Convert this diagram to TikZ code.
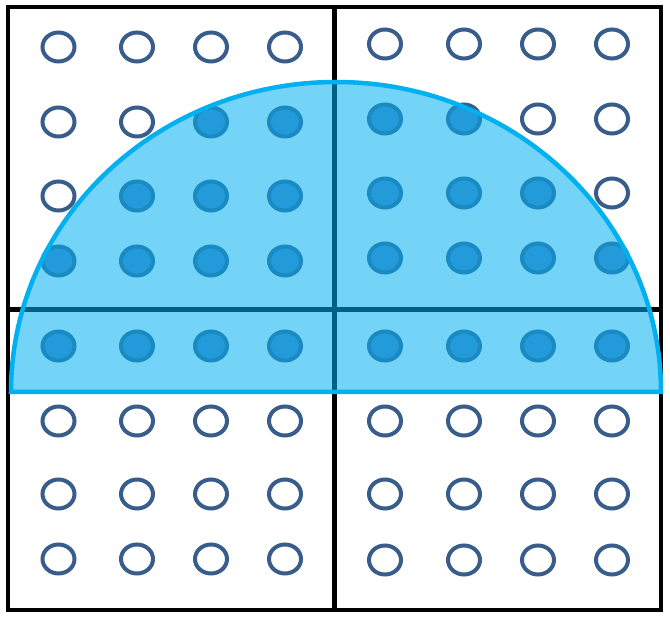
\documentclass[tikz,border=0pt]{standalone}
\usepackage{tikz}
\definecolor{ringblue}{RGB}{56,93,138}
\definecolor{dotblue}{RGB}{79,129,189}
\definecolor{halfblue}{RGB}{0,176,240}
\begin{document}
\begin{tikzpicture}[x=1pt,y=-1pt,
  dot/.style={draw=ringblue,line width=4pt},
  frame/.style={line width=4.8pt}]
\useasboundingbox (0,0) rectangle (670,620);
\draw[frame] (8,7) rectangle (661,610);
\draw[frame] (334.5,7)--(334.5,610);
\draw[frame] (8,309.5)--(661,309.5);
\foreach \yl/\yr/\a/\b in {47/44/9/0,122/119/3/6,196/193/2/7,261/258/1/8,346/346/1/8,421/421/9/0,494/494/9/0,559/560/9/0}
  \foreach \c/\x in {1/58.5,2/137,3/211,4/285,5/385,6/464,7/538,8/612}{
    \ifnum\c<5 \def\y{\yl}\else\def\y{\yr}\fi
    \ifnum\c<\a \def\f{white}\else\ifnum\c>\b \def\f{white}\else\def\f{dotblue}\fi\fi
    \draw[dot,fill=\f] (\x,\y) ellipse [x radius=16pt, y radius=14.5pt];
  }
\draw[draw=halfblue,line width=4.5pt,fill=halfblue,fill opacity=0.55]
  (11,392) arc[start angle=180, end angle=0, x radius=325pt, y radius=310pt] -- cycle;
\end{tikzpicture}
\end{document}
